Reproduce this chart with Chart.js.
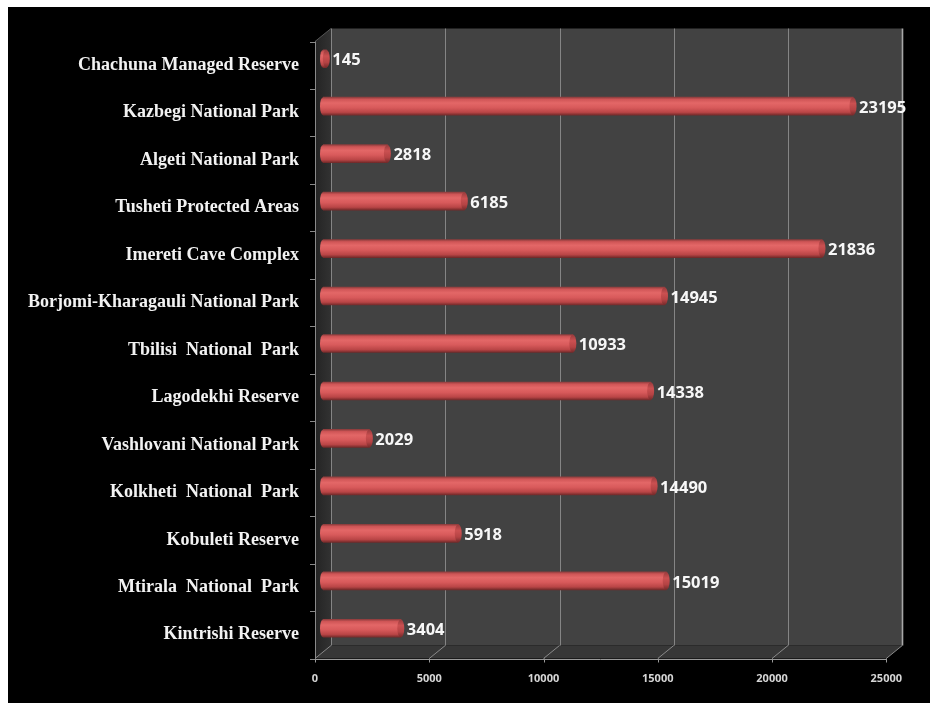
<!DOCTYPE html>
<html>
<head>
<meta charset="utf-8">
<script src="https://cdn.jsdelivr.net/npm/chart.js@4.4.1/dist/chart.umd.min.js"></script>
<style>
  html, body { margin: 0; padding: 0; background: #000; }
  canvas { display: block; }
</style>
</head>
<body>
<canvas id="chart" width="930" height="703"></canvas>
<script>
// Protected areas and their visitor counts
const parks = [
  'Chachuna Managed Reserve',
  'Kazbegi National Park',
  'Algeti National Park',
  'Tusheti Protected Areas',
  'Imereti Cave Complex',
  'Borjomi-Kharagauli National Park',
  'Tbilisi  National  Park',
  'Lagodekhi Reserve',
  'Vashlovani National Park',
  'Kolkheti  National  Park',
  'Kobuleti Reserve',
  'Mtirala  National  Park',
  'Kintrishi Reserve'
];
const visitors = [145, 23195, 2818, 6185, 21836, 14945, 10933, 14338, 2029, 14490, 5918, 15019, 3404];
const xTickValues = [0, 5000, 10000, 15000, 20000, 25000];
const xTickLabels = ['0', '5000', '10000', '15000', '20000', '25000'];

// Half of the 3D depth: the bars sit midway between the front plane and the back wall
const DX = 8, DY = 6.5;
const BAR_H = 18;

function barGradient(ctx, yc) {
  const g = ctx.createLinearGradient(0, yc - BAR_H / 2, 0, yc + BAR_H / 2);
  g.addColorStop(0.00, '#8e3d3d');
  g.addColorStop(0.12, '#cf5556');
  g.addColorStop(0.32, '#e36767');
  g.addColorStop(0.58, '#d85a5b');
  g.addColorStop(0.84, '#b94546');
  g.addColorStop(1.00, '#732a2a');
  return g;
}
function capGradient(ctx, yc) {
  const g = ctx.createLinearGradient(0, yc - BAR_H / 2, 0, yc + BAR_H / 2);
  g.addColorStop(0.00, '#953a3b');
  g.addColorStop(0.35, '#cb5051');
  g.addColorStop(0.70, '#b54344');
  g.addColorStop(1.00, '#742a2a');
  return g;
}

const frame3d = {
  id: 'frame3d',
  beforeDraw(chart) {
    const { ctx, width, height } = chart;
    ctx.save();
    ctx.fillStyle = '#ffffff';
    ctx.fillRect(0, 0, width, height);
    ctx.fillStyle = '#000000';
    ctx.fillRect(8, 7, width - 8, height - 7);
    ctx.restore();
  },
  beforeDatasetsDraw(chart) {
    const { ctx, chartArea: a, scales: { x } } = chart;
    const x0 = x.getPixelForValue(0), x1 = x.getPixelForValue(25000);
    const fl = x0 - DX, fr = x1 - DX, bl = x0 + DX, br = x1 + DX;
    const ft = a.top + DY, fb = a.bottom + DY, bt = a.top - DY, bb = a.bottom - DY;
    ctx.save();
    // back wall
    ctx.fillStyle = '#424242';
    ctx.fillRect(bl, bt, br - bl, bb - bt);
    // left side wall
    const sg = ctx.createLinearGradient(fl, 0, bl, 0);
    sg.addColorStop(0, '#242424');
    sg.addColorStop(1, '#323232');
    ctx.fillStyle = sg;
    ctx.beginPath();
    ctx.moveTo(fl, ft); ctx.lineTo(bl, bt); ctx.lineTo(bl, bb); ctx.lineTo(fl, fb);
    ctx.closePath(); ctx.fill();
    // floor
    ctx.fillStyle = '#373737';
    ctx.beginPath();
    ctx.moveTo(fl, fb); ctx.lineTo(fr, fb); ctx.lineTo(br, bb); ctx.lineTo(bl, bb);
    ctx.closePath(); ctx.fill();

    ctx.lineWidth = 1;
    // grid lines on the back wall and across the floor
    xTickValues.forEach((v) => {
      const px = x.getPixelForValue(v);
      const last = v === 25000;
      ctx.strokeStyle = last ? '#a8a8a8' : '#858585';
      ctx.lineWidth = last ? 1.6 : 1;
      ctx.beginPath();
      ctx.moveTo(Math.round(px + DX) + 0.5, bt);
      ctx.lineTo(Math.round(px + DX) + 0.5, bb);
      ctx.stroke();
      ctx.strokeStyle = '#8a8a8a';
      ctx.lineWidth = 1;
      ctx.beginPath();
      ctx.moveTo(px - DX, fb);
      ctx.lineTo(px + DX, bb);
      ctx.stroke();
      // small tick below the front edge
      ctx.strokeStyle = '#9a9a9a';
      ctx.beginPath();
      ctx.moveTo(Math.round(px - DX) + 0.5, fb);
      ctx.lineTo(Math.round(px - DX) + 0.5, fb + 4);
      ctx.stroke();
    });
    // side wall top edge
    ctx.strokeStyle = '#555555';
    ctx.beginPath(); ctx.moveTo(fl, ft); ctx.lineTo(bl, bt); ctx.stroke();
    // floor front edge
    ctx.strokeStyle = '#9a9a9a';
    ctx.beginPath();
    ctx.moveTo(fl, Math.round(fb) + 0.5); ctx.lineTo(fr, Math.round(fb) + 0.5);
    ctx.stroke();
    // vertical axis line with category boundary ticks
    ctx.strokeStyle = '#8a8a8a';
    ctx.beginPath();
    ctx.moveTo(Math.round(fl) + 0.5, ft); ctx.lineTo(Math.round(fl) + 0.5, fb);
    ctx.stroke();
    const band = (a.bottom - a.top) / parks.length;
    for (let i = 0; i <= parks.length; i++) {
      const ty = Math.round(a.top + DY + band * i) + 0.5;
      ctx.beginPath();
      ctx.moveTo(fl - 5, ty); ctx.lineTo(fl, ty);
      ctx.stroke();
    }
    ctx.restore();
  },
  afterDatasetsDraw(chart) {
    const { ctx } = chart;
    const meta = chart.getDatasetMeta(0);
    ctx.save();
    meta.data.forEach((el, i) => {
      const yc = el.y;
      // rounded left end of the cylinder
      ctx.fillStyle = barGradient(ctx, yc);
      ctx.beginPath();
      ctx.ellipse(el.base, yc, 3, BAR_H / 2, 0, Math.PI / 2, Math.PI * 1.5);
      ctx.closePath();
      ctx.fill();
      // flat right end cap
      ctx.fillStyle = capGradient(ctx, yc);
      ctx.beginPath();
      ctx.ellipse(el.x, yc, 3.5, BAR_H / 2, 0, 0, Math.PI * 2);
      ctx.fill();
      // value label
      ctx.fillStyle = '#f7f7f7';
      ctx.font = 'bold 16.5px "Open Sans", sans-serif';
      ctx.textAlign = 'left';
      ctx.textBaseline = 'middle';
      ctx.fillText(String(visitors[i]), el.x + 6, yc + 2);
    });
    ctx.restore();
  }
};

new Chart(document.getElementById('chart'), {
  type: 'bar',
  data: {
    labels: parks,
    datasets: [{
      data: visitors,
      barThickness: BAR_H,
      borderWidth: 0,
      backgroundColor(c) {
        const ch = c.chart;
        if (!ch.chartArea) return '#d55a5b';
        const yc = ch.scales.y.getPixelForValue(c.dataIndex);
        return barGradient(ch.ctx, yc);
      }
    }]
  },
  options: {
    indexAxis: 'y',
    responsive: false,
    animation: false,
    layout: { padding: { left: 0, top: 35, right: 31, bottom: 0 } },
    plugins: { legend: { display: false }, tooltip: { enabled: false } },
    scales: {
      x: {
        min: 0,
        max: 25000,
        afterBuildTicks(s) { s.ticks = xTickValues.map((v) => ({ value: v })); },
        grid: { display: false, drawTicks: false },
        border: { display: false },
        ticks: {
          color: '#d6d6d6',
          font: { family: '"Open Sans", sans-serif', size: 11, weight: 'bold' },
          padding: 20,
          labelOffset: -DX,
          maxRotation: 0,
          callback(value, index) { return xTickLabels[index]; }
        },
        afterFit(s) { s.height = 51; }
      },
      y: {
        grid: { display: false, drawTicks: false },
        border: { display: false },
        ticks: {
          color: '#f2f2f2',
          font: { family: '"Liberation Serif", "Times New Roman", serif', size: 18, weight: 'bold' },
          padding: 24,
          labelOffset: DY,
          autoSkip: false
        },
        afterFit(s) { s.width = 323; }
      }
    }
  },
  plugins: [frame3d]
});
</script>
</body>
</html>
